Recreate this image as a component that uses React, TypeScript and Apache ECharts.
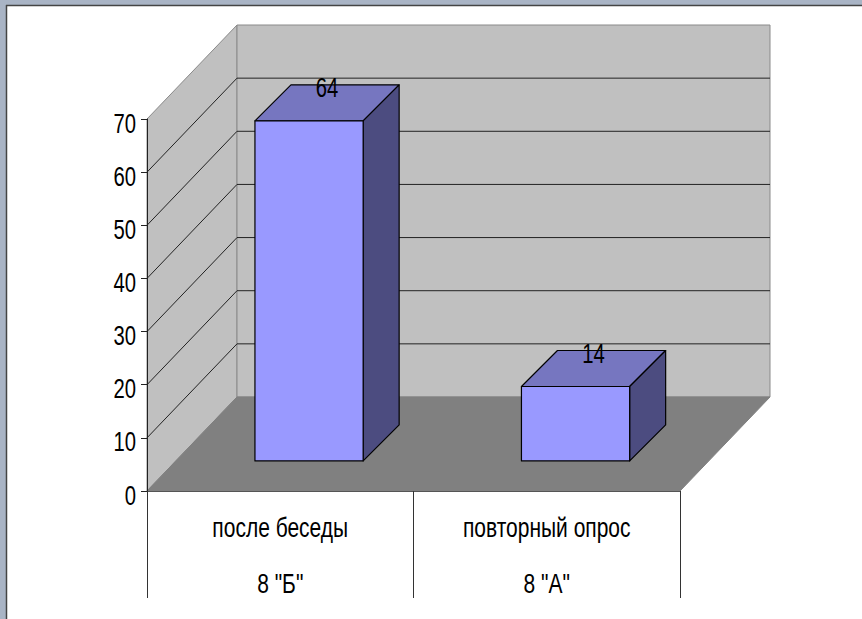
import React, { useEffect, useRef } from "react";
import * as echarts from "echarts";

const categories = ["после беседы", "повторный опрос"];
const groups = ['8 "Б"', '8 "А"'];
const values = [64, 14];
const yMin = 0;
const yMax = 70;
const yStep = 10;

const FONT = '"Liberation Sans", Arial, sans-serif';
const TEXT_SX = 0.75;
const DEPTH_X = 90;
const DEPTH_Y = -94;
const BAR_FRONT = 0.32;
const BAR_DX = 36;
const BAR_DY = -36;
const BAR_WIDTH_RATIO = 0.406;

function label(text: string, x: number, y: number, align: string, size: number) {
  return {
    type: "text",
    x,
    y,
    scaleX: TEXT_SX,
    style: {
      text,
      x: 0,
      y: 0,
      fontFamily: FONT,
      fontSize: size,
      fill: "#000",
      align,
      verticalAlign: "middle",
    },
  };
}

export default function App() {
  const ref = useRef<HTMLDivElement>(null);
  useEffect(() => {
    const chart = echarts.init(ref.current as HTMLDivElement, null, { renderer: "svg" });
    const levels: number[] = [];
    for (let t = yMin; t <= yMax; t += yStep) levels.push(t);

    const wallsRender = (params: any, api: any) => {
      const cs = params.coordSys;
      const xl = cs.x, xr = cs.x + cs.width;
      const yt = cs.y, yb = cs.y + cs.height;
      const children: any[] = [];
      children.push({
        type: "polygon",
        shape: { points: [[xl, yt], [xl + DEPTH_X, yt + DEPTH_Y], [xl + DEPTH_X, yb + DEPTH_Y], [xl, yb]] },
        style: { fill: "#c0c0c0", stroke: "#8a8a8a", lineWidth: 1 },
      });
      children.push({
        type: "rect",
        shape: { x: xl + DEPTH_X, y: yt + DEPTH_Y, width: xr - xl, height: yb - yt },
        style: { fill: "#c0c0c0", stroke: "#8a8a8a", lineWidth: 1 },
      });
      children.push({
        type: "polygon",
        shape: { points: [[xl, yb], [xl + DEPTH_X, yb + DEPTH_Y], [xr + DEPTH_X, yb + DEPTH_Y], [xr, yb]] },
        style: { fill: "#808080", stroke: "#808080", lineWidth: 1 },
      });
      levels.forEach((t) => {
        const y = api.coord([0, t])[1];
        children.push(label(String(t), xl - 11, y + 4, "right", 27));
        if (t === yMin || t === yMax) return;
        children.push({
          type: "line",
          shape: { x1: xl + DEPTH_X, y1: y + DEPTH_Y, x2: xr + DEPTH_X, y2: y + DEPTH_Y },
          style: { stroke: "#222", lineWidth: 1 },
        });
        children.push({
          type: "line",
          shape: { x1: xl, y1: y, x2: xl + DEPTH_X, y2: y + DEPTH_Y },
          style: { stroke: "#222", lineWidth: 1 },
        });
      });
      return { type: "group", children };
    };

    const barsRender = (params: any, api: any) => {
      const i = api.value(0);
      const v = api.value(1);
      const base = api.coord([i, 0]);
      const top = api.coord([i, v]);
      const band = api.size([1, 0])[0];
      const bw = band * BAR_WIDTH_RATIO;
      const ox = BAR_FRONT * DEPTH_X;
      const oy = BAR_FRONT * DEPTH_Y;
      const x0 = base[0] - bw / 2 + ox;
      const x1 = x0 + bw;
      const yb = base[1] + oy;
      const yt = top[1] + oy;
      const stroke = { stroke: "#000", lineWidth: 1.2, lineJoin: "round" };
      return {
        type: "group",
        children: [
          {
            type: "polygon",
            shape: { points: [[x0, yt], [x0 + BAR_DX, yt + BAR_DY], [x1 + BAR_DX, yt + BAR_DY], [x1, yt]] },
            style: { fill: "#7676c0", ...stroke },
          },
          {
            type: "polygon",
            shape: { points: [[x1, yt], [x1 + BAR_DX, yt + BAR_DY], [x1 + BAR_DX, yb + BAR_DY], [x1, yb]] },
            style: { fill: "#4c4c80", ...stroke },
          },
          {
            type: "rect",
            shape: { x: x0, y: yt, width: bw, height: yb - yt },
            style: { fill: "#9999ff", ...stroke },
          },
          label(String(v), x0 + bw / 2 + BAR_DX / 2, yt + BAR_DY / 2 - 15, "center", 27),
        ],
      };
    };

    const catRender = (params: any, api: any) => {
      const i = api.value(0);
      const base = api.coord([i, 0]);
      return {
        type: "group",
        children: [
          label(categories[i], base[0], base[1] + 36, "center", 28),
          label(groups[i], base[0], base[1] + 92, "center", 28),
        ],
      };
    };

    chart.setOption({
      animation: false,
      backgroundColor: "#ffffff",
      grid: { left: 147, right: 182, top: 119, bottom: 128 },
      xAxis: {
        type: "category",
        data: categories,
        z: 5,
        axisLine: { show: true, lineStyle: { color: "#555", width: 1 } },
        axisTick: { show: true, length: 107, lineStyle: { color: "#333", width: 1 } },
        axisLabel: { show: false },
        splitLine: { show: false },
      },
      yAxis: {
        type: "value",
        min: yMin,
        max: yMax,
        interval: yStep,
        z: 5,
        axisLine: { show: true, lineStyle: { color: "#222", width: 1 } },
        axisTick: { show: true, length: 6, lineStyle: { color: "#222" } },
        splitLine: { show: false },
        axisLabel: { show: false },
      },
      graphic: [
        { type: "rect", shape: { x: 0, y: 0, width: 862, height: 5 }, style: { fill: "#a9b4c5" }, z: 10 },
        { type: "rect", shape: { x: 0, y: 0, width: 6, height: 619 }, style: { fill: "#a9b4c5" }, z: 10 },
        { type: "line", shape: { x1: 6, y1: 5.5, x2: 862, y2: 5.5 }, style: { stroke: "#444", lineWidth: 1.5 }, z: 10 },
        { type: "line", shape: { x1: 6.5, y1: 5, x2: 6.5, y2: 619 }, style: { stroke: "#444", lineWidth: 1.5 }, z: 10 },
      ],
      series: [
        {
          type: "custom",
          z: 1,
          clip: false,
          silent: true,
          data: [[0, 0]],
          renderItem: wallsRender,
        },
        {
          type: "custom",
          z: 3,
          clip: false,
          data: values.map((v, i) => [i, v]),
          renderItem: barsRender,
        },
        {
          type: "custom",
          z: 4,
          clip: false,
          silent: true,
          data: categories.map((c, i) => [i, 0]),
          renderItem: catRender,
        },
      ],
    });
    return () => chart.dispose();
  }, []);
  return (
    <div
      ref={ref}
      style={{ position: "absolute", left: 0, top: 0, width: 862, height: 619 }}
    />
  );
}
